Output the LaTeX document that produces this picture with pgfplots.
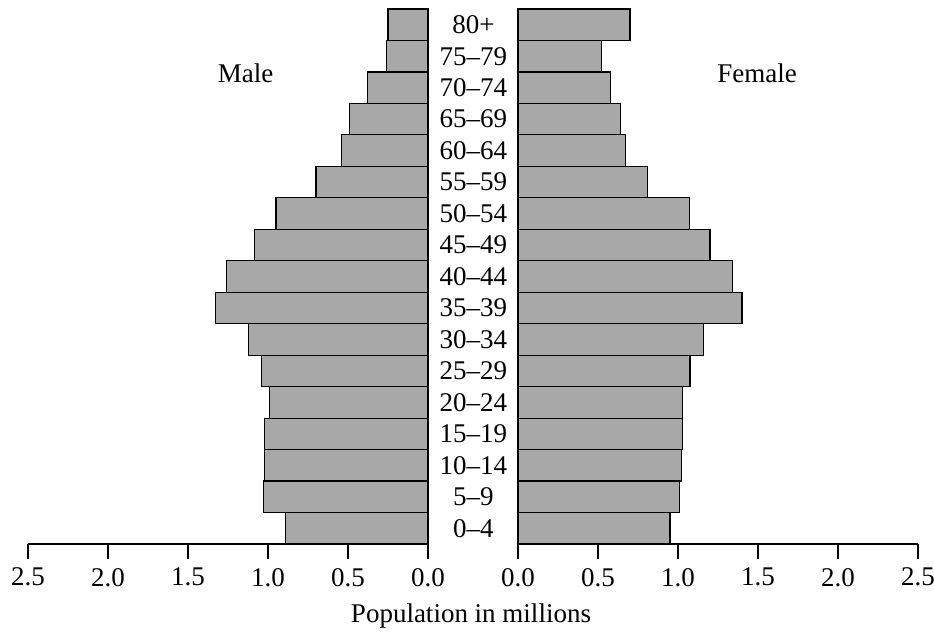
\documentclass[border=0pt]{standalone}
\usepackage{pgfplots}
\pgfplotsset{compat=1.18}
\usepackage{fontspec}
\setmainfont{Liberation Serif}
\definecolor{barfill}{HTML}{A8A8A8}
\pgfplotstableread{
y male female
0 0.89 0.95
1 1.03 1.01
2 1.02 1.02
3 1.02 1.03
4 0.99 1.03
5 1.04 1.075
6 1.12 1.16
7 1.33 1.40
8 1.26 1.34
9 1.085 1.20
10 0.95 1.07
11 0.70 0.81
12 0.54 0.67
13 0.49 0.64
14 0.38 0.58
15 0.26 0.52
16 0.25 0.70
}\pop
\begin{document}
\begin{tikzpicture}
\useasboundingbox (-14pt,-46.5pt) rectangle (453pt,272pt);
\pgfplotsset{
  pyr/.style={
    scale only axis, width=200pt, height=267.5pt,
    xmin=0, xmax=2.5, ymin=-0.5, ymax=16.5,
    xbar, bar width=1,
    axis x line=bottom,
    axis line style={-, line width=1pt, black},
    xtick={0,0.5,1,1.5,2,2.5},
    tick align=outside, major tick length=7.5pt,
    x tick style={line width=1pt, black},
    xticklabel style={font=\fontsize{13.5}{16}\selectfont, yshift=-1pt},
    /pgf/number format/assume math mode=true,
    xticklabel={\pgfmathprintnumber[fixed, fixed zerofill, precision=1]{\tick}},
    clip=false,
  },
  pyrbar/.style={fill=barfill, draw=black, line width=0.6pt},
}
\begin{axis}[pyr, name=left, at={(0,0)}, anchor=south west, x dir=reverse,
  axis y line=right, y axis line style={draw=none},
  ytick={0,...,16}, y tick style={draw=none},
  yticklabels={0--4,5--9,10--14,15--19,20--24,25--29,30--34,35--39,40--44,45--49,50--54,55--59,60--64,65--69,70--74,75--79,80+},
  yticklabel style={anchor=center, xshift=19pt, font=\fontsize{13.5}{16}\selectfont},
]
\addplot[pyrbar] table[x=male, y=y] {\pop};
\node[font=\fontsize{13.5}{16}\selectfont] at (axis cs:1.14,14.47) {Male};
\end{axis}
\begin{axis}[pyr, name=right, at={(245pt,0)}, anchor=south west,
  axis y line=none, ytick=\empty,
]
\addplot[pyrbar] table[x=female, y=y] {\pop};
\node[font=\fontsize{13.5}{16}\selectfont] at (axis cs:1.494,14.47) {Female};
\end{axis}
\node[font=\fontsize{13.5}{16}\selectfont] at (221.5pt,-36pt) {Population in millions};
\end{tikzpicture}
\end{document}
